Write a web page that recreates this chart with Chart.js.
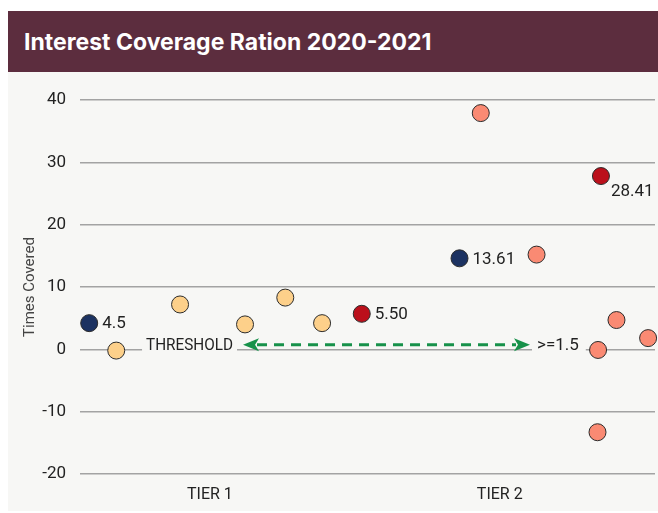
<!DOCTYPE html>
<html>
<head>
<meta charset="utf-8">
<title>Interest Coverage Ration 2020-2021</title>
<script src="https://cdn.jsdelivr.net/npm/chart.js@4.4.1/dist/chart.umd.min.js"></script>
<style>
  body { margin: 0; background: #fff; }
  #header {
    position: absolute; left: 8px; top: 11px; width: 650px; height: 61px;
    box-sizing: border-box; padding-left: 16px;
    background: #5c2d3e; color: #fff;
    font: 700 23px Inter, "Open Sans", sans-serif; line-height: 62px;
  }
  #panel { position: absolute; left: 8px; top: 72px; width: 650px; height: 439px; background: #f7f7f5; }
</style>
</head>
<body>
<div id="header">Interest Coverage Ration 2020-2021</div>
<div id="panel"><canvas id="chartCanvas" width="650" height="439"></canvas></div>
<script>
// --- data (x = horizontal spread 0..100, y = times covered) ---
const tierLabels = ["TIER 1", "TIER 2"];
const tierPos = [22.6, 73.0];

const tier1X = [6.3, 17.4, 28.7, 35.7, 42.1];
const tier1Y = [-0.2, 7.2, 4.0, 8.3, 4.2];

const tier2X = [69.7, 79.4, 93.3, 98.8, 90.1, 90.0];
const tier2Y = [37.9, 15.2, 4.7, 1.8, -0.1, -13.3];

const medianX = [1.6, 66.0];
const medianY = [4.2, 14.6];
const medianLabels = ["4.5", "13.61"];

const highX = [49.0, 90.6];
const highY = [5.7, 27.8];
const highLabels = ["5.50", "28.41"];

const thresholdFrom = 28.35;
const thresholdTo = 78.26;
const thresholdY = 0.75;
const thresholdText = "THRESHOLD";
const thresholdValue = ">=1.5";

const yTicks = [-20, -10, 0, 10, 20, 30, 40];

const toPoints = (xs, ys) => xs.map((x, i) => ({ x, y: ys[i] }));

function dotSet(label, xs, ys, color, extra) {
  return Object.assign({
    label,
    data: toPoints(xs, ys),
    backgroundColor: color,
    borderColor: "#2b2b2b",
    borderWidth: 1,
    pointRadius: 8.5,
    pointHoverRadius: 8.5,
    clip: false
  }, extra || {});
}

// dashed green threshold arrow with its two text tags
const thresholdPlugin = {
  id: "threshold",
  beforeDatasetsDraw(chart) {
    const { ctx, scales: { x, y } } = chart;
    const x0 = x.getPixelForValue(thresholdFrom);
    const x1 = x.getPixelForValue(thresholdTo);
    const yy = y.getPixelForValue(thresholdY);
    const green = "#17914a";
    const head = 16, half = 6.5;

    ctx.save();
    // left tag (squeezed a little, the original face is condensed)
    ctx.font = "17px Roboto, sans-serif";
    ctx.textBaseline = "middle";
    let w = ctx.measureText(thresholdText).width * 0.9;
    ctx.fillStyle = "#f7f7f5";
    ctx.fillRect(x0 - 10 - w - 4, yy - 10, w + 8, 20);
    ctx.fillStyle = "#222";
    ctx.save();
    ctx.translate(x0 - 10, yy + 1);
    ctx.scale(0.9, 1);
    ctx.textAlign = "right";
    ctx.fillText(thresholdText, 0, 0);
    ctx.restore();

    // right tag
    w = ctx.measureText(thresholdValue).width;
    ctx.fillStyle = "#f7f7f5";
    ctx.fillRect(x1 + 2, yy - 10, w + 12, 20);
    ctx.fillStyle = "#222";
    ctx.textAlign = "left";
    ctx.fillText(thresholdValue, x1 + 7, yy + 1);

    // dashed shaft
    ctx.strokeStyle = green;
    ctx.lineWidth = 3;
    ctx.setLineDash([10, 7]);
    ctx.beginPath();
    ctx.moveTo(x0 + head - 2, yy);
    ctx.lineTo(x1 - head + 2, yy);
    ctx.stroke();
    ctx.setLineDash([]);

    // arrow heads
    ctx.fillStyle = green;
    ctx.beginPath();
    ctx.moveTo(x0, yy);
    ctx.lineTo(x0 + head, yy - half);
    ctx.lineTo(x0 + head - 4, yy);
    ctx.lineTo(x0 + head, yy + half);
    ctx.closePath();
    ctx.fill();
    ctx.beginPath();
    ctx.moveTo(x1, yy);
    ctx.lineTo(x1 - head, yy - half);
    ctx.lineTo(x1 - head + 4, yy);
    ctx.lineTo(x1 - head, yy + half);
    ctx.closePath();
    ctx.fill();
    ctx.restore();
  }
};

// value tags beside the highlighted dots
const tagPlugin = {
  id: "tags",
  afterDatasetsDraw(chart) {
    const { ctx, chartArea } = chart;
    ctx.save();
    ctx.font = "17px Roboto, sans-serif";
    ctx.fillStyle = "#222";
    ctx.textAlign = "left";
    ctx.textBaseline = "middle";
    chart.data.datasets.forEach((ds, di) => {
      if (!ds.tags) return;
      chart.getDatasetMeta(di).data.forEach((pt, i) => {
        const txt = ds.tags[i];
        const w = ctx.measureText(txt).width;
        if (pt.x + 13 + w > chartArea.right - 6) {
          ctx.fillText(txt, pt.x + 10, pt.y + 16);   // no room: below right
        } else {
          ctx.fillText(txt, pt.x + 13, pt.y + 1);
        }
      });
    });
    ctx.restore();
  }
};

const canvas = document.getElementById("chartCanvas");

new Chart(canvas, {
  type: "scatter",
  data: {
    datasets: [
      dotSet("Tier 1", tier1X, tier1Y, "#fdd08a"),
      dotSet("Tier 2", tier2X, tier2Y, "#fa8a73"),
      dotSet("Median", medianX, medianY, "#1c3261", { tags: medianLabels }),
      dotSet("Highlight", highX, highY, "#bb101b", { tags: highLabels })
    ]
  },
  options: {
    responsive: false,
    animation: false,
    layout: { autoPadding: false, padding: { top: 28, right: 3, left: 0, bottom: 0 } },
    plugins: {
      legend: { display: false },
      tooltip: { enabled: false }
    },
    scales: {
      x: {
        type: "linear",
        min: 0,
        max: 100,
        afterBuildTicks: s => { s.ticks = tierPos.map(v => ({ value: v })); },
        afterFit: s => { s.height = 37; s.paddingLeft = 0; s.paddingRight = 0; },
        grid: { display: false, drawTicks: false },
        border: { display: false },
        ticks: {
          padding: 11,
          color: "#222",
          font: { family: "Roboto, sans-serif", size: 16 },
          callback: v => tierLabels[tierPos.indexOf(v)]
        }
      },
      y: {
        min: -20,
        max: 40,
        afterBuildTicks: s => { s.ticks = yTicks.map(v => ({ value: v })); },
        afterFit: s => { s.width = 72; },
        grid: { color: "#a3a3a3", lineWidth: 1.5, drawTicks: false },
        border: { display: false },
        ticks: {
          padding: 14,
          color: "#222",
          font: { family: "Roboto, sans-serif", size: 17 }
        },
        title: {
          display: true,
          text: "Times Covered",
          color: "#444",
          font: { family: "Roboto, sans-serif", size: 15 },
          padding: { top: 13, bottom: 0 }
        }
      }
    }
  },
  plugins: [thresholdPlugin, tagPlugin]
});
</script>
</body>
</html>
